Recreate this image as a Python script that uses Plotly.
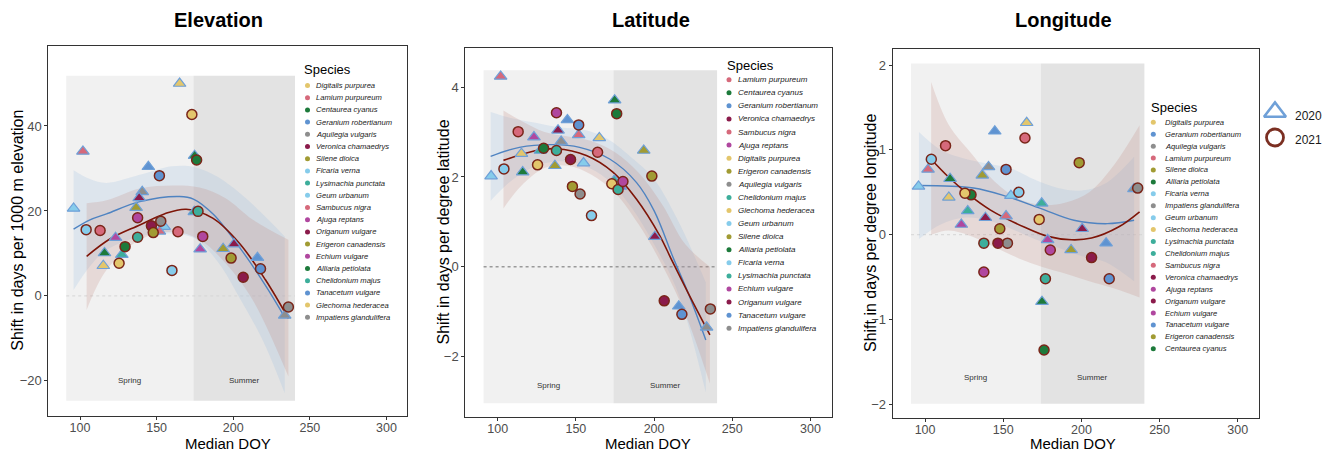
import plotly.graph_objects as go

# ---------------- data ----------------
species = ["Digitalis purpurea", "Lamium purpureum", "Centaurea cyanus", "Geranium robertianum",
           "Aquilegia vulgaris", "Veronica chamaedrys", "Silene dioica", "Ficaria verna",
           "Lysimachia punctata", "Geum urbanum", "Sambucus nigra", "Ajuga reptans",
           "Origanum vulgare", "Erigeron canadensis", "Echium vulgare", "Alliaria petiolata",
           "Chelidonium majus", "Tanacetum vulgare", "Glechoma hederacea", "Impatiens glandulifera"]
species_colors = ["#E3C66C", "#D6697B", "#1D7A3B", "#5F93D1", "#8E8E8E", "#8B1B4B", "#A19B33",
                  "#86CCEB", "#3DAE9B", "#86CCEB", "#D6697B", "#B0479F", "#8B1B4B", "#A19B33",
                  "#B0479F", "#1D7A3B", "#3DAE9B", "#5F93D1", "#E3C66C", "#8E8E8E"]

doy_2020 = [165.0, 101.9, 174.8, 144.6, 140.6, 138.6, 136.6, 95.8, 174.6, 154.9,
            151.8, 123.2, 200.5, 193.4, 178.4, 116.0, 127.3, 215.8, 115.2, 233.6]
doy_2021 = [173.0, 113.1, 176.1, 151.8, 152.7, 146.6, 147.8, 104.0, 177.0, 160.0,
            163.9, 137.6, 206.5, 198.6, 180.1, 129.4, 137.6, 217.8, 125.5, 236.0]

elev_2020 = [50.0, 34.0, 33.0, 30.4, 24.5, 23.1, 20.8, 20.6, 19.8, 16.3,
             15.2, 13.7, 12.2, 11.1, 11.0, 10.1, 9.7, 9.0, 7.1, -4.6]
elev_2021 = [42.7, 15.4, 32.0, 28.3, 17.6, 16.5, 14.9, 15.6, 19.9, 6.0,
             15.1, 18.4, 4.4, 8.9, 14.0, 11.6, 13.8, 6.4, 7.7, -2.6]
lat_2020 = [2.87, 4.24, 3.71, 3.27, 2.79, 3.04, 2.25, 2.02, 1.92, 2.31,
            2.94, 2.89, 0.67, 2.59, 1.79, 2.11, 2.59, -0.88, 2.52, -1.35]
lat_2021 = [1.85, 3.01, 3.41, 3.16, 1.62, 2.39, 1.79, 2.18, 1.72, 1.14,
            2.55, 3.43, -0.76, 2.02, 1.90, 2.64, 2.59, -1.06, 2.27, -0.94]
lon_2020 = [1.32, 0.77, -0.79, 1.22, 0.80, 0.20, 0.70, 0.57, 0.37, 0.46,
            0.22, 0.12, 0.07, -0.18, -0.06, 0.66, 0.28, -0.10, 0.44, 0.54]
lon_2021 = [0.18, 1.05, -1.36, 0.77, -0.10, -0.10, 0.07, 0.89, -0.52, 0.50,
            1.14, -0.44, -0.27, 0.85, -0.18, 0.47, -0.10, -0.52, 0.49, 0.55]

legend_elev = species[:]
legend_lat = ["Lamium purpureum", "Centaurea cyanus", "Geranium robertianum", "Veronica chamaedrys",
              "Sambucus nigra", "Ajuga reptans", "Digitalis purpurea", "Erigeron canadensis",
              "Aquilegia vulgaris", "Chelidonium majus", "Glechoma hederacea", "Geum urbanum",
              "Silene dioica", "Alliaria petiolata", "Ficaria verna", "Lysimachia punctata",
              "Echium vulgare", "Origanum vulgare", "Tanacetum vulgare", "Impatiens glandulifera"]
legend_lon = ["Digitalis purpurea", "Geranium robertianum", "Aquilegia vulgaris", "Lamium purpureum",
              "Silene dioica", "Alliaria petiolata", "Ficaria verna", "Impatiens glandulifera",
              "Geum urbanum", "Glechoma hederacea", "Lysimachia punctata", "Chelidonium majus",
              "Sambucus nigra", "Veronica chamaedrys", "Ajuga reptans", "Origanum vulgare",
              "Echium vulgare", "Tanacetum vulgare", "Erigeron canadensis", "Centaurea cyanus"]

# smoothed fits (DOY, fit) and ribbons (DOY, lower, upper)
elev_fit20_doy = [95.8, 106.5, 117.3, 139.0, 165.0, 174.0, 187.0, 204.0, 221.0, 233.6]
elev_fit20 = [15.7, 17.9, 19.3, 22.2, 23.4, 22.8, 19.2, 11.5, 2.5, -5.0]
elev_fit21_doy = [104.3, 120.0, 139.0, 155.0, 169.3, 186.6, 204.0, 221.0, 236.0]
elev_fit21 = [9.3, 13.5, 16.7, 19.3, 20.4, 18.3, 12.4, 3.8, -5.3]
elev_rib20_doy = [95.8, 106.5, 117.3, 139.0, 160.0, 175.0, 190.0, 205.0, 220.0, 233.6]
elev_rib20_lo = [1.4, 7.0, 10.8, 14.0, 14.7, 13.5, 8.0, -1.0, -11.0, -22.9]
elev_rib20_hi = [29.6, 27.5, 26.6, 28.5, 30.5, 30.3, 28.0, 24.0, 19.0, 14.0]
elev_rib21_doy = [104.3, 117.3, 139.0, 160.6, 178.0, 195.0, 212.6, 236.0]
elev_rib21_lo = [-3.3, 6.1, 13.2, 15.1, 13.2, 7.7, -0.9, -19.0]
elev_rib21_hi = [21.8, 22.5, 25.3, 26.0, 25.5, 23.0, 18.0, 13.2]

lat_fit20_doy = [95.5, 113.9, 135.3, 152.4, 171.6, 188.7, 200.0, 212.6, 222.0, 233.1]
lat_fit20 = [2.46, 2.66, 2.72, 2.66, 2.40, 1.88, 1.25, 0.17, -0.6, -1.63]
lat_fit21_doy = [103.7, 124.6, 137.4, 156.7, 173.7, 188.7, 203.7, 211.0, 222.0, 235.7]
lat_fit21 = [2.37, 2.59, 2.63, 2.48, 2.11, 1.51, 0.69, 0.17, -0.6, -1.52]
lat_rib20_doy = [95.5, 110.0, 125.0, 140.0, 155.0, 170.0, 185.0, 200.0, 215.0, 233.1]
lat_rib20_lo = [1.47, 1.95, 2.25, 2.35, 2.25, 1.95, 1.35, 0.5, -0.55, -2.8]
lat_rib20_hi = [3.45, 3.3, 3.2, 3.1, 3.05, 2.85, 2.45, 1.95, 1.05, -0.35]
lat_rib21_doy = [103.7, 115.0, 130.0, 145.0, 160.0, 175.0, 190.0, 205.0, 220.0, 235.7]
lat_rib21_lo = [1.3, 1.8, 2.2, 2.25, 2.05, 1.65, 0.95, 0.05, -1.05, -2.6]
lat_rib21_hi = [3.48, 3.25, 3.0, 2.9, 2.8, 2.55, 2.1, 1.4, 0.5, 0.0]

lon_fit20_doy = [96.1, 131.0, 152.4, 173.8, 195.2, 216.6, 233.7]
lon_fit20 = [0.58, 0.55, 0.45, 0.31, 0.17, 0.13, 0.17]
lon_fit21_doy = [103.9, 115.0, 126.8, 141.9, 163.4, 178.5, 193.6, 206.5, 223.7, 237.2]
lon_fit21 = [0.89, 0.68, 0.49, 0.29, 0.09, -0.02, -0.06, -0.04, 0.09, 0.27]
lon_rib20_doy = [96.1, 110.0, 125.0, 140.0, 155.0, 170.0, 185.0, 200.0, 215.0, 233.7]
lon_rib20_lo = [-0.05, 0.12, 0.2, 0.17, 0.07, -0.05, -0.15, -0.25, -0.32, -0.55]
lon_rib20_hi = [1.21, 1.0, 0.9, 0.84, 0.78, 0.65, 0.55, 0.52, 0.6, 0.92]
lon_rib21_doy = [103.9, 115.0, 130.0, 145.0, 160.0, 175.0, 190.0, 205.0, 220.0, 237.2]
lon_rib21_lo = [0.0, 0.05, -0.02, -0.15, -0.28, -0.38, -0.46, -0.55, -0.63, -0.74]
lon_rib21_hi = [1.8, 1.3, 0.95, 0.62, 0.42, 0.35, 0.38, 0.5, 0.8, 1.29]

season_names = ["Spring", "Summer"]
season_start = [91.0, 174.0]
season_end = [174.0, 240.3]

panel_titles = ["Elevation", "Latitude", "Longitude"]
y_titles = ["Shift in days per 1000 m elevation", "Shift in days per degree latitude",
            "Shift in days per degree longitude"]
x_ticks = [100, 150, 200, 250, 300]
y_ticks = [[-20, 0, 20, 40], [-2, 0, 2, 4], [-2, -1, 0, 1, 2]]
years = ["2020", "2021"]

# ---------------- styling / layout ----------------
W, H = 1333, 451
FONT = "Liberation Sans, Arial, Helvetica, sans-serif"
frames = [(48.3, 407.3, 45.7, 415.7), (465.3, 831.7, 47.7, 417.3), (892.7, 1259.0, 48.5, 417.5)]
x_range = [79.3, 313.6]
y_ranges = [[-28.2, 58.9], [-3.354, 4.88], [-2.156, 2.196]]
rect_y = [[-24.7, 51.8], [-3.04, 4.38], [-1.995, 2.02]]
label_y = [-20.0, -2.64, -1.69]
C_TRI_EDGE = "#6FA0D8"
C_CIR_EDGE = "#7A2519"
C_LINE20 = "#4F83C1"
C_LINE21 = "#7E1508"
C_RIB20 = "rgba(150,185,225,0.22)"
C_RIB21 = "rgba(190,125,115,0.20)"
season_fill = ["#F1F1F1", "#E3E3E3"]

panels = [
    dict(v20=elev_2020, v21=elev_2021, f20d=elev_fit20_doy, f20=elev_fit20, f21d=elev_fit21_doy, f21=elev_fit21,
         r20d=elev_rib20_doy, r20l=elev_rib20_lo, r20h=elev_rib20_hi,
         r21d=elev_rib21_doy, r21l=elev_rib21_lo, r21h=elev_rib21_hi, leg=legend_elev,
         zero=dict(color="#D5D5D5", width=1)),
    dict(v20=lat_2020, v21=lat_2021, f20d=lat_fit20_doy, f20=lat_fit20, f21d=lat_fit21_doy, f21=lat_fit21,
         r20d=lat_rib20_doy, r20l=lat_rib20_lo, r20h=lat_rib20_hi,
         r21d=lat_rib21_doy, r21l=lat_rib21_lo, r21h=lat_rib21_hi, leg=legend_lat,
         zero=dict(color="#9A9A9A", width=1.6)),
    dict(v20=lon_2020, v21=lon_2021, f20d=lon_fit20_doy, f20=lon_fit20, f21d=lon_fit21_doy, f21=lon_fit21,
         r20d=lon_rib20_doy, r20l=lon_rib20_lo, r20h=lon_rib20_hi,
         r21d=lon_rib21_doy, r21l=lon_rib21_lo, r21h=lon_rib21_hi, leg=legend_lon,
         zero=dict(color="#D5D5D5", width=1)),
]
# legend geometry in pixels: title (x, y), dot x, text x, first item y, step, font size
legend_geo = [
    dict(tx=302, ty=69, dx=307.5, lx=313.5, y0=85.5, step=12.2, fs=7.6),
    dict(tx=725, ty=65, dx=729.0, lx=735.5, y0=79.7, step=13.08, fs=8.0),
    dict(tx=1149, ty=107, dx=1153.3, lx=1162.5, y0=122.3, step=11.92, fs=7.6),
]
title_x = [218, 651, 1063]
ytitle_x = [18, 443, 870]
xtitle_x = [228, 648, 1073]

fig = go.Figure()
layout_axes = {}
shapes = []
annotations = []
color_of = dict(zip(species, species_colors))

for i, p in enumerate(panels):
    k = "" if i == 0 else str(i + 1)
    xa, ya = "x" + k, "y" + k
    x0, x1, y0, y1 = frames[i]
    layout_axes["xaxis" + k] = dict(
        domain=[x0 / W, x1 / W], range=x_range, anchor=ya, tickvals=x_ticks,
        showgrid=False, zeroline=False, showline=True, mirror=True, linecolor="#333333", linewidth=1,
        ticks="outside", ticklen=3, tickcolor="#333333", ticklabelstandoff=-3,
        tickfont=dict(family=FONT, size=12.5, color="#4D4D4D"))
    layout_axes["yaxis" + k] = dict(
        domain=[1 - y1 / H, 1 - y0 / H], range=y_ranges[i], anchor=xa, tickvals=y_ticks[i],
        showgrid=False, zeroline=False, showline=True, mirror=True, linecolor="#333333", linewidth=1,
        ticks="outside", ticklen=3, tickcolor="#333333",
        tickfont=dict(family=FONT, size=13, color="#4D4D4D"))

    # season rectangles + labels
    for s in range(2):
        shapes.append(dict(type="rect", xref=xa, yref=ya, x0=season_start[s], x1=season_end[s],
                           y0=rect_y[i][0], y1=rect_y[i][1], fillcolor=season_fill[s],
                           line=dict(width=0), layer="below"))
        annotations.append(dict(xref=xa, yref=ya, x=(season_start[s] + season_end[s]) / 2, y=label_y[i],
                                text=season_names[s], showarrow=False,
                                font=dict(family=FONT, size=8, color="#333333")))
    # zero line
    fig.add_trace(go.Scatter(x=[season_start[0], season_end[1]], y=[0, 0], mode="lines",
                             line=dict(color=p["zero"]["color"], width=p["zero"]["width"], dash="dot"),
                             xaxis=xa, yaxis=ya, showlegend=False, hoverinfo="skip"))
    # ribbons
    for d, lo, hi, col in [(p["r20d"], p["r20l"], p["r20h"], C_RIB20), (p["r21d"], p["r21l"], p["r21h"], C_RIB21)]:
        fig.add_trace(go.Scatter(x=d, y=lo, mode="lines", line=dict(width=0, shape="spline"),
                                 xaxis=xa, yaxis=ya, showlegend=False, hoverinfo="skip"))
        fig.add_trace(go.Scatter(x=d, y=hi, mode="lines", line=dict(width=0, shape="spline"),
                                 fill="tonexty", fillcolor=col,
                                 xaxis=xa, yaxis=ya, showlegend=False, hoverinfo="skip"))
    # fitted lines
    fig.add_trace(go.Scatter(x=p["f20d"], y=p["f20"], mode="lines",
                             line=dict(color=C_LINE20, width=1.4, shape="spline"),
                             xaxis=xa, yaxis=ya, showlegend=False))
    fig.add_trace(go.Scatter(x=p["f21d"], y=p["f21"], mode="lines",
                             line=dict(color=C_LINE21, width=1.6, shape="spline"),
                             xaxis=xa, yaxis=ya, showlegend=False))
    # points
    fig.add_trace(go.Scatter(x=doy_2020, y=p["v20"], mode="markers", text=species,
                             marker=dict(symbol="triangle-up", size=11, color=species_colors,
                                         line=dict(color=C_TRI_EDGE, width=1.2)),
                             xaxis=xa, yaxis=ya, showlegend=False))
    fig.add_trace(go.Scatter(x=doy_2021, y=p["v21"], mode="markers", text=species,
                             marker=dict(symbol="circle", size=10, color=species_colors,
                                         line=dict(color=C_CIR_EDGE, width=1.5)),
                             xaxis=xa, yaxis=ya, showlegend=False))

    # titles
    annotations.append(dict(xref="x4", yref="y4", x=title_x[i], y=20, text="<b>%s</b>" % panel_titles[i],
                            showarrow=False, font=dict(family=FONT, size=20, color="#000000")))
    annotations.append(dict(xref="x4", yref="y4", x=xtitle_x[i], y=443.5, text="Median DOY",
                            showarrow=False, borderpad=0, font=dict(family=FONT, size=15, color="#000000")))
    annotations.append(dict(xref="x4", yref="y4", x=ytitle_x[i], y=(y0 + y1) / 2, text=y_titles[i],
                            textangle=-90, showarrow=False, font=dict(family=FONT, size=16, color="#000000")))

    # species legend
    g = legend_geo[i]
    annotations.append(dict(xref="x4", yref="y4", x=g["tx"], y=g["ty"], text="Species", xanchor="left",
                            showarrow=False, font=dict(family=FONT, size=13, color="#000000")))
    ys = [g["y0"] + j * g["step"] for j in range(len(p["leg"]))]
    fig.add_trace(go.Scatter(x=[g["dx"]] * len(ys), y=ys, mode="markers",
                             marker=dict(size=5, color=[color_of[s] for s in p["leg"]]),
                             xaxis="x4", yaxis="y4", showlegend=False, hoverinfo="skip"))
    for s, yy in zip(p["leg"], ys):
        annotations.append(dict(xref="x4", yref="y4", x=g["lx"], y=yy, text="<i>%s</i>" % s, xanchor="left",
                                showarrow=False, font=dict(family=FONT, size=g["fs"], color="#1A1A1A")))

# year legend (pixel overlay axis)
fig.add_trace(go.Scatter(x=[1275], y=[112], mode="markers",
                         marker=dict(symbol="triangle-up-open", size=19, color=C_TRI_EDGE, line=dict(width=2.6)),
                         xaxis="x4", yaxis="y4", showlegend=False, hoverinfo="skip"))
fig.add_trace(go.Scatter(x=[1275], y=[137.5], mode="markers",
                         marker=dict(symbol="circle-open", size=17, color="#7B2F22", line=dict(width=2.8)),
                         xaxis="x4", yaxis="y4", showlegend=False, hoverinfo="skip"))
for yy, t in zip([115.5, 139.5], years):
    annotations.append(dict(xref="x4", yref="y4", x=1293, y=yy, text=t, xanchor="left",
                            showarrow=False, font=dict(family=FONT, size=12, color="#1A1A1A")))

layout_axes["xaxis4"] = dict(domain=[0, 1], range=[0, W], visible=False, anchor="y4", fixedrange=True)
layout_axes["yaxis4"] = dict(domain=[0, 1], range=[H, 0], visible=False, anchor="x4", fixedrange=True)

fig.update_layout(
    width=W, height=H, margin=dict(l=0, r=0, t=0, b=0),
    paper_bgcolor="white", plot_bgcolor="rgba(0,0,0,0)",
    font=dict(family=FONT), showlegend=False, hovermode=False,
    shapes=shapes, annotations=annotations, **layout_axes)

# remove the browser's default page margin so the figure starts at the window corner
fig.write_html("out.html", config={"displayModeBar": False, "staticPlot": True},
               post_script="document.body.style.margin='0';document.body.style.overflow='hidden';")
